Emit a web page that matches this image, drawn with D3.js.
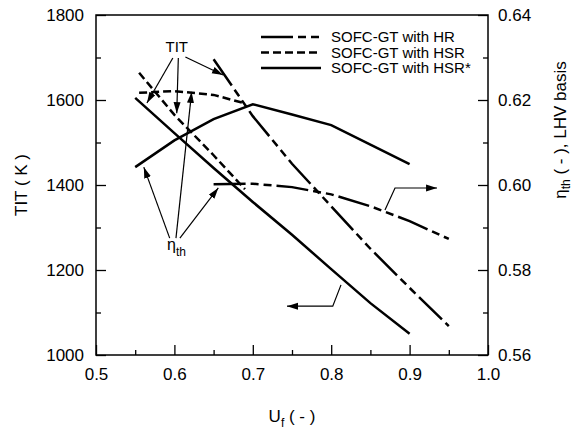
<!DOCTYPE html>
<html>
<head>
<meta charset="utf-8">
<script src="https://cdn.jsdelivr.net/npm/d3@7"></script>
<style>
body { margin: 0; background: #fff; }
svg text { font-family: Arial, "Liberation Sans", sans-serif; fill: #000; }
</style>
</head>
<body>
<svg></svg>
<script>
const W = 573, H = 433;
const margin = {left: 96, right: 85, top: 15, bottom: 78};

// fuel utilisation (x) and values
const hrUf = [0.65, 0.7, 0.75, 0.8, 0.85, 0.9, 0.95];
const hrTit = [1696, 1562, 1450, 1350, 1250, 1158, 1068];
const hrEta = [0.6002, 0.6003, 0.5995, 0.5978, 0.5950, 0.5915, 0.5873];

const hsrUf = [0.555, 0.6, 0.65, 0.69];
const hsrTit = [1664, 1565, 1470, 1390];
const hsrEta = [0.6217, 0.6221, 0.6212, 0.6192];

const hsrsUf = [0.55, 0.6, 0.65, 0.7, 0.75, 0.8, 0.85, 0.9];
const hsrsTit = [1605, 1522, 1440, 1360, 1283, 1202, 1122, 1050];
const hsrsEta = [0.6042, 0.6105, 0.6155, 0.6190, 0.6166, 0.6141, 0.6095, 0.6049];

const seriesNames = ['SOFC-GT with HR', 'SOFC-GT with HSR', 'SOFC-GT with HSR*'];
const dashes = ['32,5,8,5,8,5', '8,4', null];

const xTicks = [0.5, 0.6, 0.7, 0.8, 0.9, 1.0];
const xMinor = [0.55, 0.65, 0.75, 0.85, 0.95];
const titTicks = [1000, 1200, 1400, 1600, 1800];
const titMinor = [1100, 1300, 1500, 1700];
const etaTicks = [0.56, 0.58, 0.60, 0.62, 0.64];
const etaMinor = [0.57, 0.59, 0.61, 0.63];

// annotation arrows, in data units (uf, TIT)
const titArrows = [
	[[0.598, 1699], [0.565, 1593]],
	[[0.605, 1699], [0.603, 1569]],
	[[0.614, 1701], [0.662, 1659]]
];
const etaArrows = [
	[[0.594, 1275], [0.561, 1442]],
	[[0.602, 1275], [0.622, 1619]],
	[[0.607, 1275], [0.656, 1393]]
];
const leftArrow = [[0.8125, 1165], [0.802, 1115], [0.7436, 1115]];
const rightArrow = [[0.8686, 1341], [0.8814, 1393], [0.935, 1393]];

var svg = d3.select('svg').attr('width', W).attr('height', H);

var x = d3.scaleLinear().domain([0.5, 1.0]).range([margin.left, W - margin.right]);
var yL = d3.scaleLinear().domain([1000, 1800]).range([H - margin.bottom, margin.top]);
var yR = d3.scaleLinear().domain([0.56, 0.64]).range([H - margin.bottom, margin.top]);

svg.append('defs').append('marker')
	.attr('id', 'head').attr('markerUnits', 'userSpaceOnUse')
	.attr('markerWidth', 12).attr('markerHeight', 8)
	.attr('refX', 11).attr('refY', 3.5).attr('orient', 'auto')
	.append('path').attr('d', 'M0,0 L11,3.5 L0,7 Z').attr('fill', '#000');

function axisStyle(g){
	g.select('.domain').remove();
	g.selectAll('line').attr('stroke', '#000').attr('stroke-width', 1.3);
	g.selectAll('text').style('font-size', '17px');
}

// bottom axis
svg.append('g').attr('transform', `translate(0,${H - margin.bottom})`)
	.call(d3.axisBottom(x).tickValues(xTicks).tickSize(-10).tickPadding(13).tickFormat(d3.format('.1f')))
	.call(axisStyle);
svg.append('g').attr('transform', `translate(0,${H - margin.bottom})`)
	.call(d3.axisBottom(x).tickValues(xMinor).tickSize(-5).tickFormat(''))
	.call(axisStyle);

// left axis
svg.append('g').attr('transform', `translate(${margin.left},0)`)
	.call(d3.axisLeft(yL).tickValues(titTicks).tickSize(-10).tickPadding(12).tickFormat(d3.format('d')))
	.call(axisStyle);
svg.append('g').attr('transform', `translate(${margin.left},0)`)
	.call(d3.axisLeft(yL).tickValues(titMinor).tickSize(-5).tickFormat(''))
	.call(axisStyle);

// right axis
svg.append('g').attr('transform', `translate(${W - margin.right},0)`)
	.call(d3.axisRight(yR).tickValues(etaTicks).tickSize(-10).tickPadding(10).tickFormat(d3.format('.2f')))
	.call(axisStyle);
svg.append('g').attr('transform', `translate(${W - margin.right},0)`)
	.call(d3.axisRight(yR).tickValues(etaMinor).tickSize(-5).tickFormat(''))
	.call(axisStyle);

// frame
svg.append('rect')
	.attr('x', margin.left).attr('y', margin.top)
	.attr('width', W - margin.left - margin.right).attr('height', H - margin.top - margin.bottom)
	.attr('fill', 'none').attr('stroke', '#000').attr('stroke-width', 1.5);

// curves
var lineL = d3.line().x(d => x(d[0])).y(d => yL(d[1]));
var lineR = d3.line().x(d => x(d[0])).y(d => yR(d[1]));

var curves = [
	{uf: hrUf, tit: hrTit, eta: hrEta, dash: dashes[0]},
	{uf: hsrUf, tit: hsrTit, eta: hsrEta, dash: dashes[1]},
	{uf: hsrsUf, tit: hsrsTit, eta: hsrsEta, dash: dashes[2]}
];
var plot = svg.append('g');
curves.forEach(c => {
	plot.append('path').datum(c.uf.map((u, i) => [u, c.tit[i]]))
		.attr('d', lineL).attr('fill', 'none').attr('stroke', '#000')
		.attr('stroke-width', 2.5).attr('stroke-dasharray', c.dash);
	plot.append('path').datum(c.uf.map((u, i) => [u, c.eta[i]]))
		.attr('d', lineR).attr('fill', 'none').attr('stroke', '#000')
		.attr('stroke-width', 2.5).attr('stroke-dasharray', c.dash);
});

// annotations
var ann = svg.append('g');
titArrows.concat(etaArrows, [leftArrow, rightArrow]).forEach(a => {
	ann.append('path').datum(a).attr('d', lineL)
		.attr('fill', 'none').attr('stroke', '#000').attr('stroke-width', 1.2)
		.attr('marker-end', 'url(#head)');
});
ann.append('text').attr('x', x(0.603)).attr('y', yL(1713))
	.attr('text-anchor', 'middle').style('font-size', '15px').text('TIT');
var et = ann.append('text').attr('x', x(0.5906)).attr('y', yL(1247)).style('font-size', '16px');
et.append('tspan').text('η');
et.append('tspan').attr('dy', 6).style('font-size', '12px').text('th');

// legend
var leg = svg.append('g');
seriesNames.forEach((n, i) => {
	var yy = 37 + i * 15.5;
	leg.append('line').attr('x1', 261).attr('x2', 321).attr('y1', yy).attr('y2', yy)
		.attr('stroke', '#000').attr('stroke-width', 2.5).attr('stroke-dasharray', dashes[i]);
	leg.append('text').attr('x', 331).attr('y', yy + 5).style('font-size', '15px').text(n);
});

// axis titles
var xt = svg.append('text').attr('x', (margin.left + W - margin.right) / 2).attr('y', 422)
	.attr('text-anchor', 'middle').style('font-size', '17px');
xt.append('tspan').text('U');
xt.append('tspan').attr('dy', 5).style('font-size', '12px').text('f');
xt.append('tspan').attr('dy', -5).text(' ( - )');

svg.append('text').attr('transform', 'translate(27,185) rotate(-90)')
	.attr('text-anchor', 'middle').style('font-size', '17px').text('TIT ( K )');

var rt = svg.append('text').attr('transform', 'translate(566,130) rotate(-90)')
	.attr('text-anchor', 'middle').style('font-size', '17px');
rt.append('tspan').text('η');
rt.append('tspan').attr('dy', 4).style('font-size', '12px').text('th');
rt.append('tspan').attr('dy', -4).text(' ( - ), LHV basis');
</script>
</body>
</html>
